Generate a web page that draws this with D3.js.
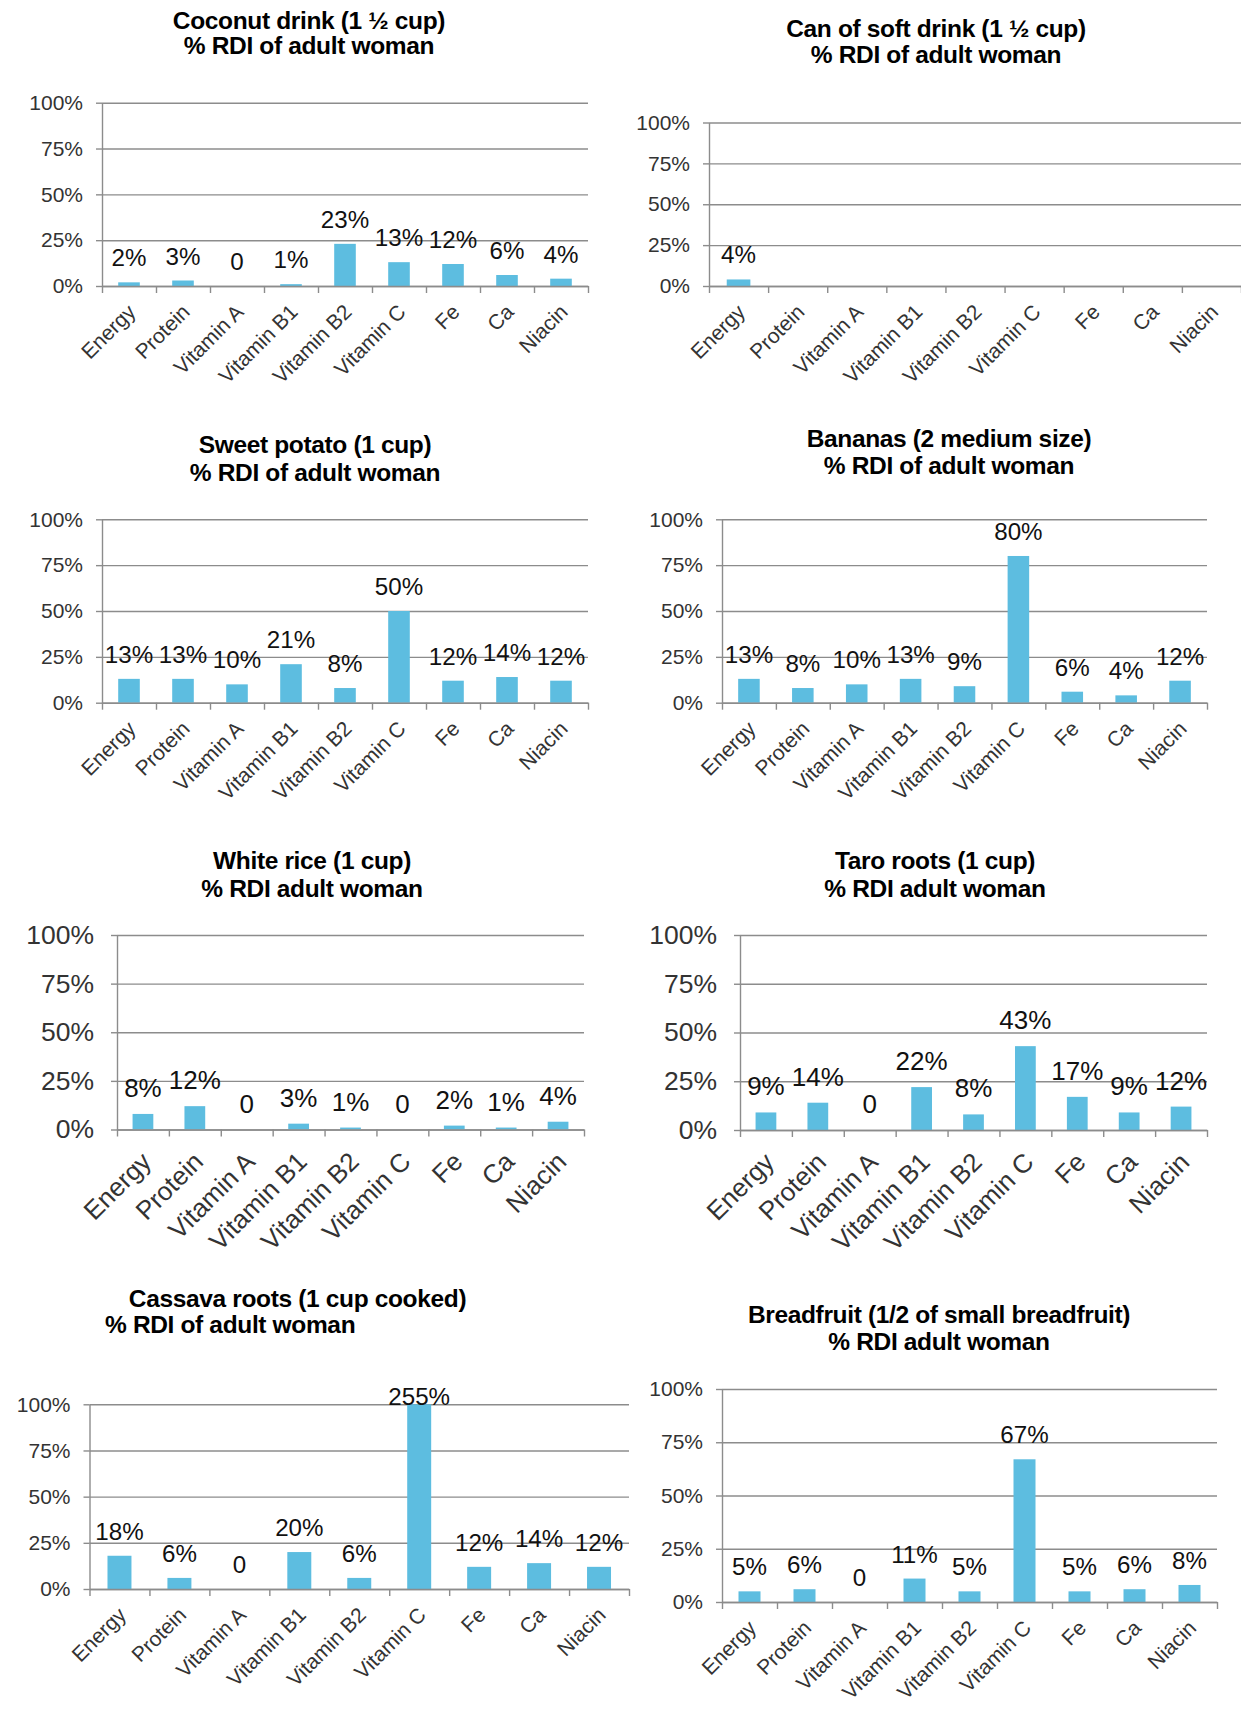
<!DOCTYPE html>
<html><head><meta charset="utf-8">
<script src="https://cdn.jsdelivr.net/npm/d3@7"></script>
<style>
body{margin:0;background:#fff}
svg{display:block}
text{font-family:"Liberation Sans",Arial,sans-serif}
</style>
</head><body>
<svg id="chart" width="1241" height="1710"></svg>
<script>
// ---------- data ----------
const categories = ["Energy","Protein","Vitamin A","Vitamin B1","Vitamin B2","Vitamin C","Fe","Ca","Niacin"];
const yTickValues = [0,25,50,75,100];

const coconutValues    = [2,3,0,1,23,13,12,6,4];
const softDrinkValues  = [4,null,null,null,null,null,null,null,null];
const sweetPotatoValues= [13,13,10,21,8,50,12,14,12];
const bananaValues     = [13,8,10,13,9,80,6,4,12];
const whiteRiceValues  = [8,12,0,3,1,0,2,1,4];
const taroValues       = [9,14,0,22,8,43,17,9,12];
const cassavaValues    = [18,6,0,20,6,255,12,14,12];
const breadfruitValues = [5,6,0,11,5,67,5,6,8];

const titleLine1 = ["Coconut drink (1 \u00bd cup)","Can of soft drink (1 \u00bd cup)","Sweet potato (1 cup)","Bananas (2 medium size)","White rice (1 cup)","Taro roots (1 cup)","Cassava roots (1 cup cooked)","Breadfruit (1/2 of small breadfruit)"];
const titleLine2 = ["% RDI of adult woman","% RDI of adult woman","% RDI of adult woman","% RDI of adult woman","% RDI adult woman","% RDI adult woman","% RDI of adult woman","% RDI adult woman"];
const seriesList = [coconutValues,softDrinkValues,sweetPotatoValues,bananaValues,whiteRiceValues,taroValues,cassavaValues,breadfruitValues];

// ---------- layout (positions / sizes) ----------
const small = {tickFs:21, tickPad:13, dataFs:23, dataSX:1.05, dataOff:16, catFs:21};
const large = {tickFs:26.5, tickPad:17, dataFs:25.5, dataSX:1.02, dataOff:17, catFs:26};
const layout = [
  {x0:102, x1:588,  yTop:102.7, yBot:286,   tx:309, ty1:29,    ty2:54,    s:small},
  {x0:709, x1:1241, yTop:122.5, yBot:286,   tx:936, ty1:36.5,  ty2:62.5,  s:small},
  {x0:102, x1:588,  yTop:519.3, yBot:702.7, tx:315, ty1:453,   ty2:480.5, s:small},
  {x0:722, x1:1207, yTop:519.3, yBot:702.7, tx:949, ty1:446.5, ty2:473.5, s:small},
  {x0:117, x1:584,  yTop:935,   yBot:1129.5,tx:312, ty1:869,   ty2:896.5, s:large},
  {x0:740, x1:1207, yTop:935,   yBot:1130,  tx:935, ty1:869,   ty2:896.5, s:large},
  {x0:89.5,x1:629,  yTop:1404.3,yBot:1589,  tx:297.5,ty1:1306.5,ty2:1333, s:small, t2x:105},
  {x0:722, x1:1217, yTop:1389,  yBot:1602,  tx:939, ty1:1323,  ty2:1350,  s:small}
];

const barColor = "#5DBDE0";
const lineColor = "#8C8C8C";
const titleFs = 24.5;
const svg = d3.select("#chart");

seriesList.forEach((values, i) => {
  const L = layout[i], s = L.s;
  const g = svg.append("g");

  const x = d3.scaleBand().domain(categories).range([L.x0, L.x1]).paddingInner(0).paddingOuter(0);
  const xb = d3.scaleLinear().domain([0, categories.length]).range([L.x0, L.x1]);
  const y = d3.scaleLinear().domain([0, 100]).range([L.yBot, L.yTop]).clamp(true);

  // title
  g.append("text").attr("x", L.tx).attr("y", L.ty1).attr("text-anchor","middle")
    .attr("font-size", titleFs).attr("font-weight","bold").attr("letter-spacing", -0.35)
    .attr("fill","#000").text(titleLine1[i]);
  g.append("text").attr("x", L.t2x !== undefined ? L.t2x : L.tx).attr("y", L.ty2)
    .attr("text-anchor", L.t2x !== undefined ? "start" : "middle")
    .attr("font-size", titleFs).attr("font-weight","bold").attr("letter-spacing", -0.35)
    .attr("fill","#000").text(titleLine2[i]);

  // gridlines
  const grid = g.append("g").attr("transform", `translate(${L.x0},0)`)
    .call(d3.axisLeft(y).tickValues(yTickValues).tickSize(-(L.x1 - L.x0)).tickFormat(""));
  grid.select(".domain").remove();
  grid.selectAll("line").attr("stroke", lineColor).attr("stroke-width", 1.4);

  // y axis with labels
  const ya = g.append("g").attr("transform", `translate(${L.x0},0)`)
    .call(d3.axisLeft(y).tickValues(yTickValues).tickSize(6).tickSizeOuter(0).tickPadding(s.tickPad).tickFormat(d => d + "%"));
  ya.select(".domain").attr("stroke", lineColor).attr("stroke-width", 1.4);
  ya.selectAll("line").attr("stroke", lineColor).attr("stroke-width", 1.4);
  ya.selectAll("text").attr("font-size", s.tickFs).attr("fill", "#333").attr("font-family", null);

  // bars
  g.append("g").selectAll("rect").data(values.map((v, k) => ({v, c: categories[k]})).filter(d => d.v !== null))
    .join("rect")
    .attr("x", d => x(d.c) + x.bandwidth() * 0.3)
    .attr("width", x.bandwidth() * 0.4)
    .attr("y", d => y(d.v))
    .attr("height", d => L.yBot - y(d.v))
    .attr("fill", barColor);

  // x axis with category boundary ticks
  const xa = g.append("g").attr("transform", `translate(0,${L.yBot})`)
    .call(d3.axisBottom(xb).tickValues(d3.range(categories.length + 1)).tickSize(7).tickSizeOuter(0).tickFormat(""));
  xa.select(".domain").attr("stroke", lineColor).attr("stroke-width", 1.4);
  xa.selectAll("line").attr("stroke", lineColor).attr("stroke-width", 1.4);

  // category labels
  const xl = g.append("g").attr("transform", `translate(0,${L.yBot})`)
    .call(d3.axisBottom(x).tickSize(0));
  xl.select(".domain").remove();
  xl.selectAll("text")
    .attr("y", null).attr("dy", null)
    .attr("text-anchor", "end")
    .attr("font-size", s.catFs).attr("fill", "#333").attr("font-family", null)
    .attr("transform", `translate(${0.38 * s.catFs},${1.3 * s.catFs}) rotate(-45)`);

  // data labels
  g.append("g").selectAll("text").data(values.map((v, k) => ({v, c: categories[k]})).filter(d => d.v !== null))
    .join("text")
    .attr("text-anchor", "middle")
    .attr("font-size", s.dataFs).attr("fill", "#111")
    .attr("transform", d => {
      const cx = x(d.c) + x.bandwidth() / 2;
      const by = Math.max(y(d.v) - s.dataOff, L.yTop + 1);
      return `translate(${cx},${by}) scale(${s.dataSX},1)`;
    })
    .text(d => d.v === 0 ? "0" : d.v + "%");
});
</script>
</body></html>
